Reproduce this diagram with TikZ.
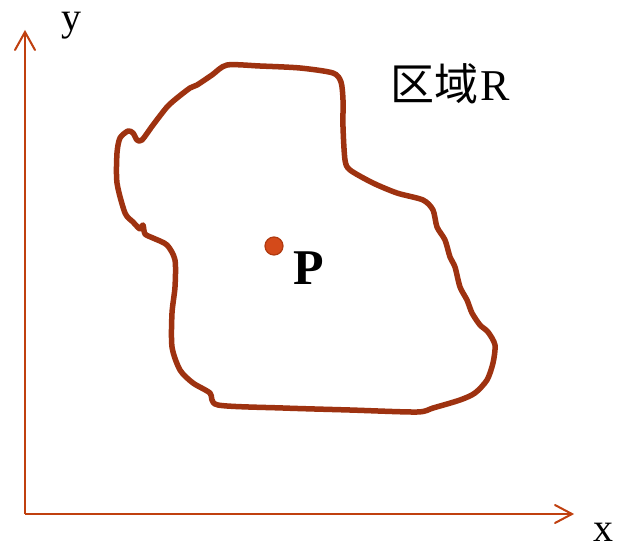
\documentclass[tikz,border=0pt]{standalone}
\usepackage{fontspec}
\setmainfont{Liberation Serif}
\newfontfamily\cjk{Noto Sans CJK SC}
\definecolor{axiscol}{HTML}{C0400F}
\definecolor{curvecol}{HTML}{9E3210}
\definecolor{ptfill}{HTML}{D44A1A}
\definecolor{ptdraw}{HTML}{B03A10}
\tikzset{
  axisline/.style={draw=axiscol, line width=2pt},
  chevron/.style={draw=axiscol, line width=2pt, line cap=round, line join=miter},
  region/.style={draw=curvecol, line width=5.5pt, line join=round, line cap=round},
  lbl/.style={inner sep=0pt, text=black}
}
\begin{document}
\begin{tikzpicture}[x=1pt,y=-1pt]
\useasboundingbox (0,0) rectangle (618,549);
\fill[white] (0,0) rectangle (618,549);
% axes
\coordinate (O) at (25,514);
\coordinate (Ytip) at (25,32);
\coordinate (Xtip) at (572,514);
\draw[axisline] (O) -- (Ytip);
\draw[axisline] (O) -- (Xtip);
\draw[chevron] ([xshift=-10pt,yshift=-18pt]Ytip) -- (Ytip) -- ([xshift=10pt,yshift=-18pt]Ytip);
\draw[chevron] ([xshift=-17pt,yshift=-9pt]Xtip) -- (Xtip) -- ([xshift=-17pt,yshift=9pt]Xtip);
\node[lbl, font=\fontsize{40}{40}\selectfont] (ylab) at (71,26) {y};
\node[lbl, font=\fontsize{40}{40}\selectfont] (xlab) at (603,532) {x};
% region
\draw[region] plot[smooth cycle, tension=0.45] coordinates {
(227,65) (260,66) (300,68) (333,73) (341,82) (343,100) (343,127) (345,160)
(350,170) (373,183) (397,193) (423,200) (433,210) (437,227) (445,240)
(450,257) (455,267) (460,287) (467,300) (472,313) (480,325) (488,332)
(495,345) (493,363) (487,380) (475,393) (460,400) (433,408) (417,412)
(350,410) (283,408) (218,405) (210,393) (193,383) (180,370) (172,347)
(172,313) (175,287) (175,260) (167,245) (153,238) (145,234) (143,225)
(140,229) (133,222) (125,213) (117,183) (117,153) (120,138) (128,131)
(133,133) (137,140) (142,140) (153,125) (167,107) (177,98) (190,88)
(197,85) (212,75)};
\node[lbl, anchor=base west] (rlab) at (390,100) {{\cjk\fontsize{44}{44}\selectfont 区域}\hspace{2pt}{\fontsize{44}{44}\selectfont R}};
% point
\filldraw[fill=ptfill, draw=ptdraw, line width=1.2pt] (274,246) circle (9pt);
\coordinate (P) at (274,246);
\node[lbl, anchor=base west, font=\fontsize{50}{50}\selectfont\bfseries] (plab) at (293,284) {P};
\end{tikzpicture}
\end{document}
